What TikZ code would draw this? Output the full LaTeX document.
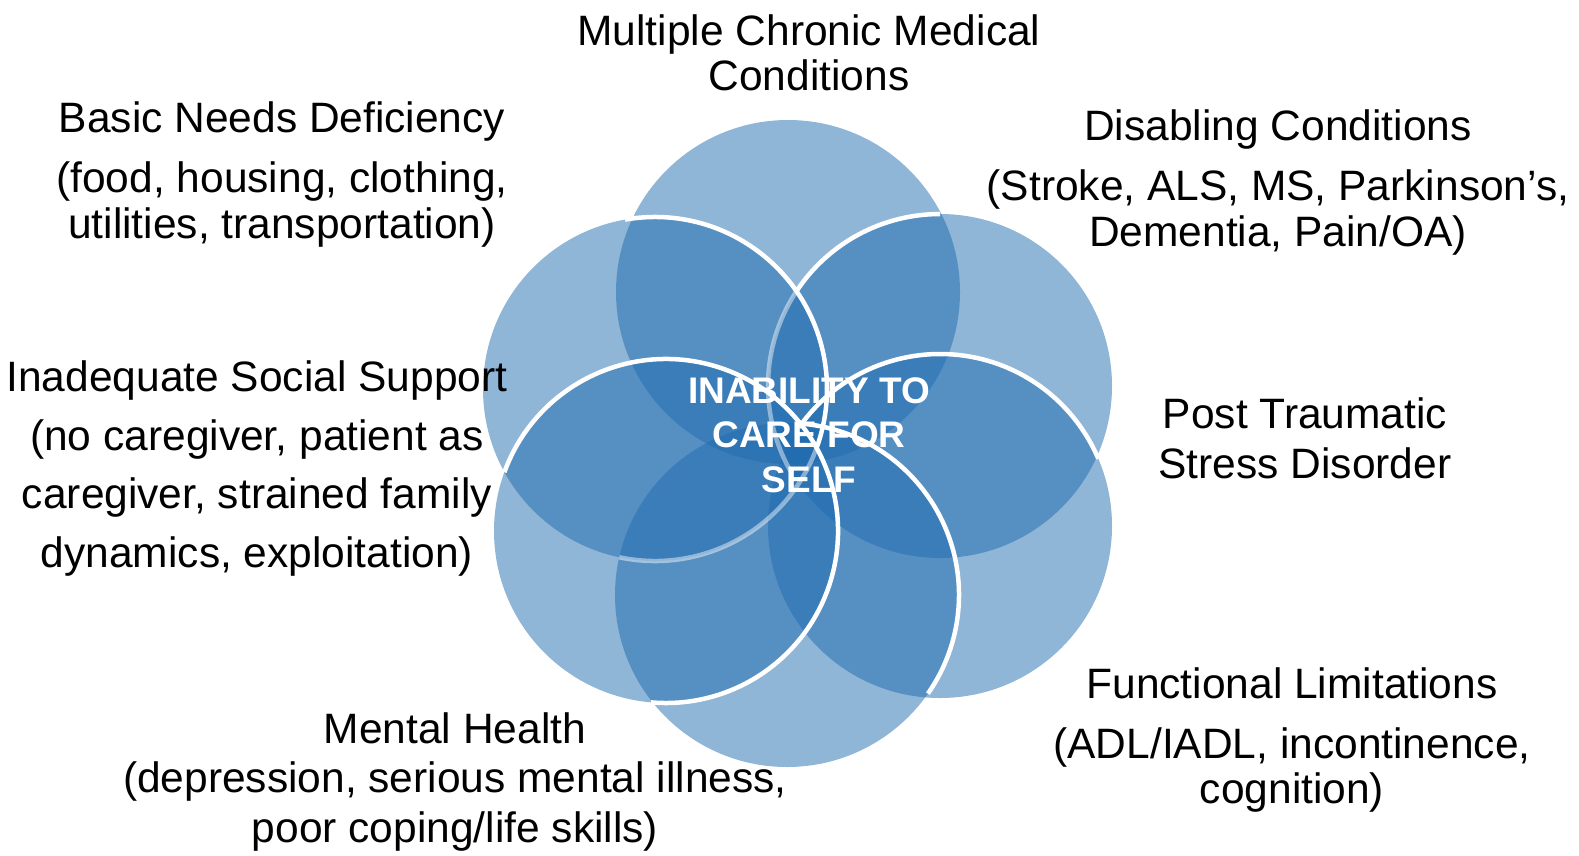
\documentclass[tikz,border=0pt]{standalone}
\usepackage{fontspec}
\setmainfont{Liberation Sans}
\definecolor{bubblue}{RGB}{31,107,175}
\newcommand\warc[5]{\draw[#5] (#1) ++(#2:#4) arc[start angle=#2, end angle=#3, radius=#4];}
\begin{document}
\begin{tikzpicture}[x=1pt,y=-1pt,
  bub/.style={circle, minimum size=344pt, inner sep=0pt, fill=bubblue, fill opacity=0.5, draw=none},
  wline/.style={draw=white, line width=4.5pt},
  fline/.style={draw=white, draw opacity=0.45, line width=4.5pt},
  lbl/.style={align=center, font=\fontsize{42.5}{46}\selectfont, inner sep=0pt, anchor=base, text=black},
  ctext/.style={align=center, font=\bfseries\fontsize{37}{44.5}\selectfont, inner sep=0pt, anchor=base, text=white}]
\useasboundingbox (0,0) rectangle (1579,855);
% circles
\node[bub] (cT)  at (788,292) {};
\node[bub] (cUR) at (940,386) {};
\node[bub] (cLR) at (940,526) {};
\node[bub] (cB)  at (787,595) {};
\node[bub] (cLL) at (666,531) {};
\node[bub] (cUL) at (655,389) {};
% white outlines (visible parts)
\warc{cUR.center}{-90}{-147}{172}{wline}
\warc{cUR.center}{-147}{-210}{172}{fline}
\warc{cLR.center}{-145}{-23}{172}{wline}
\warc{cB.center}{-85}{35}{172}{wline}
\warc{cUL.center}{-100}{20}{172}{wline}
\warc{cUL.center}{20}{102}{172}{fline}
\warc{cLL.center}{-160}{95}{172}{wline}
% centre text (anchor = baseline of last line)
\node[ctext] (ctr) at (809,492) {INABILITY TO\\CARE FOR\\SELF};
% labels (anchor = baseline of last line)
\node[lbl] (lT) at (809,90) {Multiple Chronic Medical\\[-1pt]Conditions};
\node[lbl] (lBasic) at (282,238) {Basic Needs Deficiency\\[14pt](food, housing, clothing,\\utilities, transportation)};
\node[lbl] (lDis) at (1278,246) {Disabling Conditions\\[14pt](Stroke, ALS, MS, Parkinson’s,\\Dementia, Pain/OA)};
\node[lbl] (lSoc) at (257,567) {Inadequate Social Support\\[12.5pt](no caregiver, patient as\\[12.5pt]caregiver, strained family\\[12.5pt]dynamics, exploitation)};
\node[lbl] (lPTSD) at (1305,478) {Post Traumatic\\[4pt]Stress Disorder};
\node[lbl] (lFun) at (1292,803) {Functional Limitations\\[14pt](ADL/IADL, incontinence,\\[-1pt]cognition)};
\node[lbl] (lMen) at (455,842) {Mental Health\\[3pt](depression, serious mental illness,\\[4pt]poor coping/life skills)};
\end{tikzpicture}
\end{document}
